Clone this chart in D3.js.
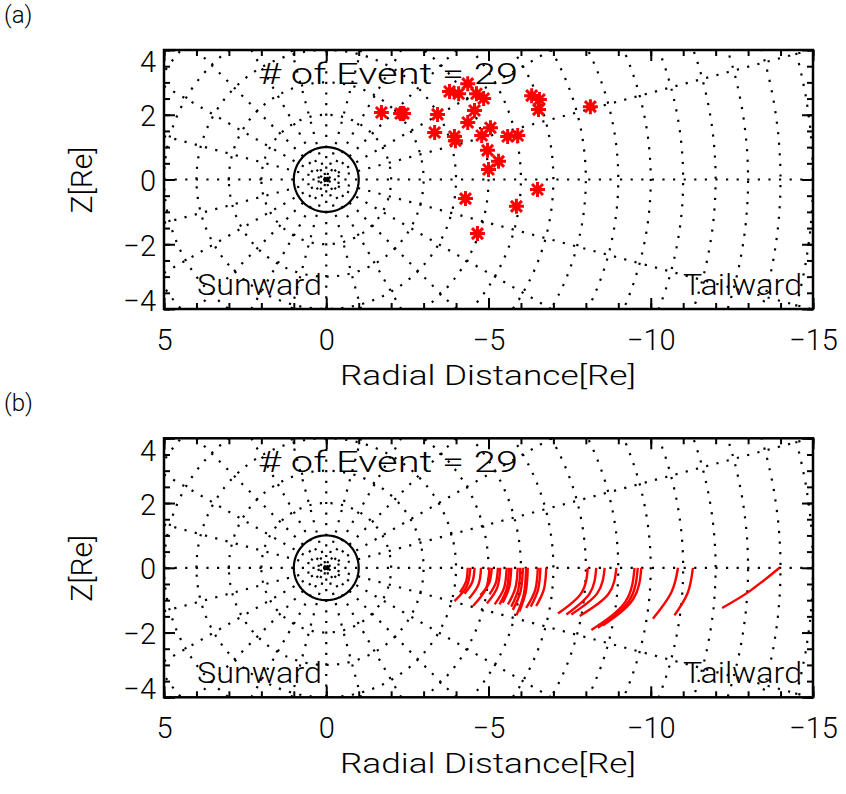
<!DOCTYPE html>
<html><head><meta charset="utf-8">
<script src="https://cdn.jsdelivr.net/npm/d3@7"></script>
<style>
body{margin:0;background:#fff}
svg{display:block}
text{font-family:Roboto,"DejaVu Sans",sans-serif;font-weight:300;fill:#000}
</style>
</head><body>
<svg id="chart" width="846" height="794"></svg>
<script>
// ---------------- data ----------------
const xTickValues = [5, 0, -5, -10, -15];
const zTickValues = [-4, -2, 0, 2, 4];
const xDomain = [5, -15];
const zDomain = [-4, 4];
const eventCount = 29;
const panelLabels = ["(a)", "(b)"];
const gridRadii = [2,3,4,5,6,7,8,9,10,11,12,13,14,15,16,17];
const gridAngles = [0,15,30,45,60,75,90,105,120,135,150,165,180,195,210,225,240,255,270,285,300,315,330,345];
const earthRadius = [1];

// panel (a) event positions
const starX = [-1.70,-2.29,-2.38,-3.43,-3.34,-3.80,-4.08,-4.36,-4.63,-4.85,-4.57,-4.36,-3.95,-3.98,-4.79,-5.06,-5.59,-5.90,-4.97,-5.31,-5.00,-6.33,-6.57,-6.54,-8.14,-4.29,-5.86,-6.51,-4.66];
const starZ = [2.07,2.04,2.04,2.01,1.45,2.72,2.65,2.96,2.65,2.50,2.13,1.76,1.33,1.20,1.36,1.60,1.33,1.36,0.90,0.56,0.31,2.59,2.47,2.16,2.25,-0.59,-0.83,-0.31,-1.67];

// panel (b) traces: start on Z=0, a middle point and an end point
const traceTopX = [-4.36,-4.44,-4.57,-4.77,-5.03,-5.10,-5.29,-5.36,-5.56,-5.63,-5.70,-5.90,-5.98,-6.06,-6.16,-6.21,-6.52,-6.60,-6.78,-8.06,-8.32,-8.58,-8.94,-9.50,-9.60,-9.71,-10.84,-11.30,-13.97];
const traceMidX = [-4.31,-4.33,-4.50,-4.69,-4.92,-5.02,-5.23,-5.27,-5.48,-5.57,-5.64,-5.83,-5.92,-5.99,-6.09,-6.15,-6.44,-6.53,-6.71,-7.86,-8.12,-8.35,-8.69,-9.21,-9.33,-9.45,-10.63,-11.14,-13.05];
const traceMidZ = [-0.42,-0.57,-0.44,-0.52,-0.65,-0.47,-0.45,-0.61,-0.62,-0.62,-0.59,-0.62,-0.66,-0.72,-0.81,-0.74,-0.68,-0.66,-0.65,-0.78,-0.79,-0.79,-0.82,-1.06,-1.02,-0.98,-0.77,-0.77,-0.72];
const traceEndX = [-4.12,-3.95,-4.26,-4.40,-4.52,-4.75,-5.03,-4.95,-5.19,-5.34,-5.44,-5.60,-5.70,-5.75,-5.86,-5.95,-6.16,-6.30,-6.47,-7.14,-7.40,-7.55,-7.81,-8.17,-8.37,-8.52,-10.07,-10.73,-12.20];
const traceEndZ = [-0.76,-1.03,-0.80,-0.95,-1.18,-0.85,-0.82,-1.10,-1.13,-1.13,-1.08,-1.13,-1.20,-1.30,-1.47,-1.35,-1.24,-1.20,-1.18,-1.41,-1.44,-1.44,-1.49,-1.92,-1.85,-1.78,-1.57,-1.47,-1.24];

// ---------------- layout ----------------
const svg = d3.select("#chart");
const plotLeft = 164, plotRight = 813, plotH = 259;
const panelTops = [50, 438.3];
const FS = 29;

const stars = starX.map((x, i) => ({x, z: starZ[i]}));
const traces = traceTopX.map((x, i) => [[x, 0], [traceMidX[i], traceMidZ[i]], [traceEndX[i], traceEndZ[i]]]);

const fmt = d => d < 0 ? "\u2212" + Math.abs(d) : String(d);

function rayEnd(aDeg) {
  const a = aDeg * Math.PI / 180, dx = Math.cos(a), dz = Math.sin(a);
  const ts = [];
  if (dx > 1e-9) ts.push(xDomain[0] / dx);
  if (dx < -1e-9) ts.push(xDomain[1] / dx);
  if (dz > 1e-9) ts.push(zDomain[1] / dz);
  if (dz < -1e-9) ts.push(zDomain[0] / dz);
  const t = Math.min(...ts);
  return [t * dx, t * dz];
}

panelTops.forEach((top, p) => {
  const x = d3.scaleLinear().domain(xDomain).range([plotLeft, plotRight]);
  const y = d3.scaleLinear().domain(zDomain).range([top + plotH, top]);
  const g = svg.append("g");
  const clipId = "clip" + p;
  svg.append("clipPath").attr("id", clipId).append("rect")
    .attr("x", plotLeft).attr("y", top).attr("width", plotRight - plotLeft).attr("height", plotH);
  const plot = g.append("g").attr("clip-path", `url(#${clipId})`);

  const dotted = sel => sel.attr("fill", "none").attr("stroke", "#000")
    .attr("stroke-width", 2.2).attr("stroke-dasharray", "2.2,8.4");

  const angleSteps = d3.range(0, 361, 2);
  const circ = r => d3.line()(angleSteps.map(a => [x(r * Math.cos(a * Math.PI / 180)), y(r * Math.sin(a * Math.PI / 180))]));
  plot.selectAll("path.gc").data(gridRadii).join("path").attr("class", "gc")
    .attr("d", circ).call(dotted);
  plot.selectAll("path.gr").data(gridAngles).join("path").attr("class", "gr")
    .attr("d", a => { const e = rayEnd(a); return d3.line()([[x(e[0]), y(e[1])], [x(0), y(0)]]); })
    .call(dotted);
  plot.selectAll("path.earth").data(earthRadius).join("path").attr("class", "earth")
    .attr("d", circ).attr("fill", "none").attr("stroke", "#000").attr("stroke-width", 2.2);

  if (p === 0) {
    const a = 7.5, b = 5.5;
    const starPath = `M${-a},0H${a}M0,${-a}V${a}M${-b},${-b}L${b},${b}M${-b},${b}L${b},${-b}`;
    plot.selectAll("path.star").data(stars).join("path").attr("class", "star")
      .attr("transform", d => `translate(${x(d.x)},${y(d.z)})`)
      .attr("d", starPath).attr("fill", "none").attr("stroke", "#ff0000").attr("stroke-width", 3);
  } else {
    const line = d3.line().x(d => x(d[0])).y(d => y(d[1])).curve(d3.curveNatural);
    plot.selectAll("path.trace").data(traces).join("path").attr("class", "trace")
      .attr("d", line).attr("fill", "none").attr("stroke", "#ff0000").attr("stroke-width", 2.4);
  }

  const xMinor = d3.range(5, -15.5, -1);
  const yMinor = d3.range(-4, 4.01, 0.5);
  g.append("g").attr("transform", `translate(0,${top + plotH})`)
    .call(d3.axisBottom(x).tickValues(xTickValues).tickSize(-11).tickPadding(20).tickFormat(fmt));
  g.append("g").attr("transform", `translate(0,${top + plotH})`)
    .call(d3.axisBottom(x).tickValues(xMinor).tickSize(-6).tickFormat(""));
  g.append("g").attr("transform", `translate(0,${top})`)
    .call(d3.axisTop(x).tickValues(xTickValues).tickSize(-11).tickFormat(""));
  g.append("g").attr("transform", `translate(0,${top})`)
    .call(d3.axisTop(x).tickValues(xMinor).tickSize(-6).tickFormat(""));
  const leftAx = g.append("g").attr("transform", `translate(${plotLeft},0)`)
    .call(d3.axisLeft(y).tickValues(zTickValues).tickSize(-11).tickPadding(8).tickFormat(fmt));
  g.append("g").attr("transform", `translate(${plotLeft},0)`)
    .call(d3.axisLeft(y).tickValues(yMinor).tickSize(-6).tickFormat(""));
  g.append("g").attr("transform", `translate(${plotRight},0)`)
    .call(d3.axisRight(y).tickValues(zTickValues).tickSize(-11).tickFormat(""));
  g.append("g").attr("transform", `translate(${plotRight},0)`)
    .call(d3.axisRight(y).tickValues(yMinor).tickSize(-6).tickFormat(""));
  g.selectAll(".domain").remove();
  g.selectAll(".tick line").attr("stroke", "#000").attr("stroke-width", 2);
  g.selectAll(".tick text").style("font-size", FS + "px").style("font-family", "Roboto, sans-serif").style("font-weight", 300);
  leftAx.selectAll(".tick text").attr("dy", d => d === 4 ? "0.75em" : d === -4 ? "0.05em" : "0.38em");

  g.append("rect").attr("x", plotLeft).attr("y", top).attr("width", plotRight - plotLeft).attr("height", plotH)
    .attr("fill", "none").attr("stroke", "#000").attr("stroke-width", 2.5);

  g.append("text").attr("x", 258).attr("y", top + 34).attr("textLength", 260).attr("lengthAdjust", "spacingAndGlyphs")
    .style("font-size", "30px").text(`#  of  Event  =  ${eventCount}`);
  g.append("text").attr("x", 197).attr("y", top + 245).attr("textLength", 125).attr("lengthAdjust", "spacingAndGlyphs")
    .style("font-size", FS + "px").text("Sunward");
  g.append("text").attr("x", 683).attr("y", top + 245).attr("textLength", 119).attr("lengthAdjust", "spacingAndGlyphs")
    .style("font-size", FS + "px").text("Tailward");
  g.append("text").attr("x", 488).attr("y", top + 335).attr("text-anchor", "middle")
    .attr("textLength", 296).attr("lengthAdjust", "spacingAndGlyphs")
    .style("font-size", "27px").text("Radial Distance[Re]");
  g.append("text").attr("transform", `translate(92,${top + 130}) rotate(-90)`).attr("text-anchor", "middle")
    .style("font-size", "30px").text("Z[Re]");
  g.append("text").attr("x", 4).attr("y", top - 27).style("font-size", "24px").text(panelLabels[p]);
});
</script>
</body></html>
